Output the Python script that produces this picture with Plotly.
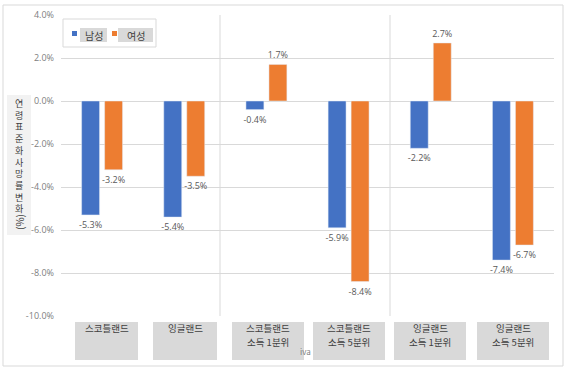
import plotly.graph_objects as go

categories = ["스코틀랜드", "잉글랜드", "스코틀랜드<br>소득 1분위", "스코틀랜드<br>소득 5분위",
              "잉글랜드<br>소득 1분위", "잉글랜드<br>소득 5분위"]
male = [-5.3, -5.4, -0.4, -5.9, -2.2, -7.4]
female = [-3.2, -3.5, 1.7, -8.4, 2.7, -6.7]
series_names = ["남성", "여성"]
y_title = "연령표준화사망률변화"
y_ticks = [4, 2, 0, -2, -4, -6, -8, -10]

W, H = 567, 375
L, R, T, B = 61, 554, 15, 316
FONT = "Noto Sans CJK KR"
NUMFONT = "Open Sans"
BLUE, ORANGE = "#4472C4", "#ED7D31"


def px(x):
    return (x - L) / (R - L)


def py(y):
    return (B - y) / (B - T)


fig = go.Figure()
fig.add_trace(go.Bar(x=list(range(6)), y=male, name=series_names[0], marker_color=BLUE,
                     texttemplate="%{y:.1f}%", textposition="outside", cliponaxis=False,
                     constraintext="none",
                     textfont=dict(size=9, color="#595959", family=NUMFONT)))
fig.add_trace(go.Bar(x=list(range(6)), y=female, name=series_names[1], marker_color=ORANGE,
                     texttemplate="%{y:.1f}%", textposition="outside", cliponaxis=False,
                     constraintext="none",
                     textfont=dict(size=9, color="#595959", family=NUMFONT)))

shapes = []
annotations = []


def rect(x0, y0, x1, y1, fill, line=None, layer="above"):
    shapes.append(dict(type="rect", xref="paper", yref="paper",
                       x0=px(x0), x1=px(x1), y0=py(y1), y1=py(y0),
                       fillcolor=fill, line=dict(color=line or fill, width=1 if line else 0),
                       layer=layer))


def text(x, y, s, size=10, color="#404040", xanchor="center", yanchor="middle", angle=0, **kw):
    annotations.append(dict(xref="paper", yref="paper", x=px(x), y=py(y), text=s,
                            showarrow=False, xanchor=xanchor, yanchor=yanchor, textangle=angle,
                            font=dict(size=size, color=color, family=FONT), **kw))


# outer chart border
rect(3, 5, 563, 366, "rgba(0,0,0,0)", "#d9d9d9", layer="below")

# vertical separators
for xs in (220, 390):
    shapes.append(dict(type="line", xref="paper", yref="paper", x0=px(xs), x1=px(xs),
                       y0=0, y1=1, line=dict(color="#d9d9d9", width=1), layer="below"))

# "iva" remnant text
text(313, 352, "iva", size=8, color="#808080", xanchor="right")

# category boxes, one annotation per label line
boxes = [(75, 138), (153, 217), (232, 304), (313, 385), (394, 466), (477, 549)]
for (x0, x1), cat in zip(boxes, categories):
    rect(x0, 322, x1, 360, "#d9d9d9")
    for j, line in enumerate(cat.split("<br>")):
        text((x0 + x1) / 2, 327.5 + 14.5 * j, line, size=9.5, borderpad=0)

# y title box (characters stacked upright, "(%)" rotated)
rect(7, 95, 31, 235, "#f2f2f2")
text(19, 96, "<br>".join(y_title), size=9, yanchor="top", borderpad=0)
text(19, 222, "(%)", size=10, angle=-90, borderpad=0)

# legend
rect(63, 19, 156, 47, "white", "#d9d9d9")
rect(72, 31, 77, 36, BLUE)
rect(80, 28, 107, 42, "#d9d9d9")
text(93.5, 35, series_names[0], size=10)
rect(112, 31, 117, 36, ORANGE)
rect(118, 28, 153, 42, "#d9d9d9")
text(135.5, 35, series_names[1], size=10)

fig.update_layout(
    width=W, height=H,
    margin=dict(l=L, r=W - R, t=T, b=H - B, autoexpand=False),
    paper_bgcolor="white", plot_bgcolor="white",
    showlegend=False,
    barmode="group", bargap=0.44, bargroupgap=0.22,
    font=dict(family=FONT, color="#595959"),
    shapes=shapes, annotations=annotations,
)
fig.update_xaxes(range=[-0.5, 5.5], showticklabels=False, showgrid=False, zeroline=False,
                 showline=False, ticks="")
fig.update_yaxes(range=[-10, 4], tickvals=y_ticks, ticktext=[f"{v:.1f}%" for v in y_ticks],
                 showgrid=True, gridcolor="#d9d9d9", gridwidth=1, zeroline=True,
                 zerolinecolor="#d9d9d9", zerolinewidth=1, showline=False, ticks="",
                 ticklabelstandoff=6, tickfont=dict(size=9, color="#808080", family=NUMFONT))

fig.write_html("out.html", config={"displayModeBar": False},
               post_script="document.body.style.margin='0';")
